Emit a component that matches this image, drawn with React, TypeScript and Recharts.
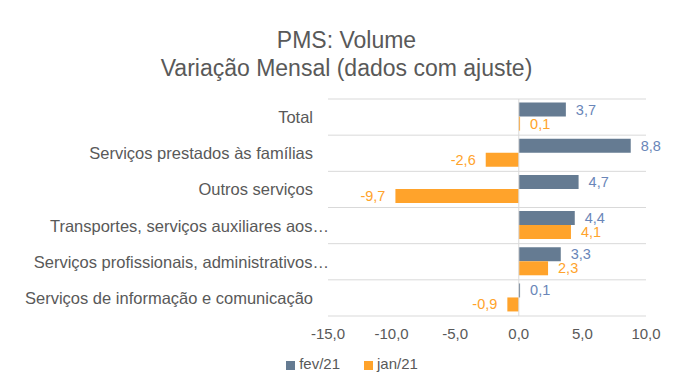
import { BarChart, Bar, XAxis, YAxis, CartesianGrid, Legend, ReferenceLine, LabelList } from 'recharts';

const categorias = [
  'Total',
  'Serviços prestados às famílias',
  'Outros serviços',
  'Transportes, serviços auxiliares aos…',
  'Serviços profissionais, administrativos…',
  'Serviços de informação e comunicação',
];
const fev21 = [3.7, 8.8, 4.7, 4.4, 3.3, 0.1];
const jan21 = [0.1, -2.6, -9.7, 4.1, 2.3, -0.9];
const ticksX = [-15, -10, -5, 0, 5, 10];

const dados = categorias.map((name, i) => ({ name, fev: fev21[i], jan: jan21[i] }));

const FONTE = '"Liberation Sans", Arial, sans-serif';
const CINZA = '#595959';
const COR_FEV = '#657b92';
const COR_JAN = '#ffa32b';

const fmt = (v: number) => v.toFixed(1).replace('.', ',');

const rotulo = (cor: string) => (props: any) => {
  const { x, y, width, height, value } = props;
  const esq = Math.min(x, x + width);
  const dir = Math.max(x, x + width);
  const neg = value < 0;
  return (
    <text
      x={neg ? esq - 10 : dir + 10}
      y={y + height / 2}
      textAnchor={neg ? 'end' : 'start'}
      dominantBaseline="central"
      fill={cor}
      fontSize={14.5}
      fontFamily={FONTE}
    >
      {fmt(value)}
    </text>
  );
};

// rótulos truncados no original avançam um pouco além da margem
const TickCategoria = (props: any) => {
  const { x, y, payload } = props;
  const txt: string = payload.value;
  const dx = txt.endsWith('…') ? 16 : 0;
  return (
    <text x={x + dx} y={y} textAnchor="end" dominantBaseline="central" fill={CINZA} fontSize={16.5} fontFamily={FONTE}>
      {txt}
    </text>
  );
};

const linhasGrade = ({ offset }: any) => {
  const passo = offset.height / categorias.length;
  return categorias.map((_, i) => offset.top + i * passo).concat(offset.top + offset.height);
};

export default function App() {
  return (
    <div style={{ position: 'absolute', left: 0, top: 0, width: 693, height: 382, background: '#fff', fontFamily: FONTE }}>
      <div style={{ position: 'absolute', top: 26, left: 0, width: 693, textAlign: 'center', color: CINZA, fontSize: 23, lineHeight: '28px' }}>
        PMS: Volume
        <br />
        Variação Mensal (dados com ajuste)
      </div>
      <BarChart
        width={693}
        height={382}
        data={dados}
        layout="vertical"
        margin={{ top: 99, right: 47, bottom: 0, left: 0 }}
        barCategoryGap="10%"
        barGap={0}
      >
        <CartesianGrid vertical={false} stroke="#d9d9d9" horizontalCoordinatesGenerator={linhasGrade} />
        <XAxis
          type="number"
          domain={[-15, 10]}
          ticks={ticksX}
          tickFormatter={fmt}
          axisLine={false}
          tickLine={false}
          tickSize={0}
          tickMargin={12}
          height={30}
          tick={{ fill: CINZA, fontSize: 15, fontFamily: FONTE }}
        />
        <YAxis
          type="category"
          dataKey="name"
          width={328}
          axisLine={false}
          tickLine={false}
          tickSize={0}
          tickMargin={15}
          interval={0}
          tick={<TickCategoria />}
        />
        <ReferenceLine x={0} stroke="#d9d9d9" strokeWidth={1} />
        <Legend
          verticalAlign="bottom"
          align="center"
          height={36}
          iconType="square"
          iconSize={9}
          wrapperStyle={{ top: 355, fontSize: 15, color: CINZA, fontFamily: FONTE, paddingLeft: 41 }}
          formatter={(v: string) => <span style={{ color: CINZA, marginRight: 14 }}>{v}</span>}
        />
        <Bar dataKey="fev" name="fev/21" fill={COR_FEV} isAnimationActive={false}>
          <LabelList dataKey="fev" content={rotulo('#6a86b8')} />
        </Bar>
        <Bar dataKey="jan" name="jan/21" fill={COR_JAN} isAnimationActive={false}>
          <LabelList dataKey="jan" content={rotulo(COR_JAN)} />
        </Bar>
      </BarChart>
    </div>
  );
}
